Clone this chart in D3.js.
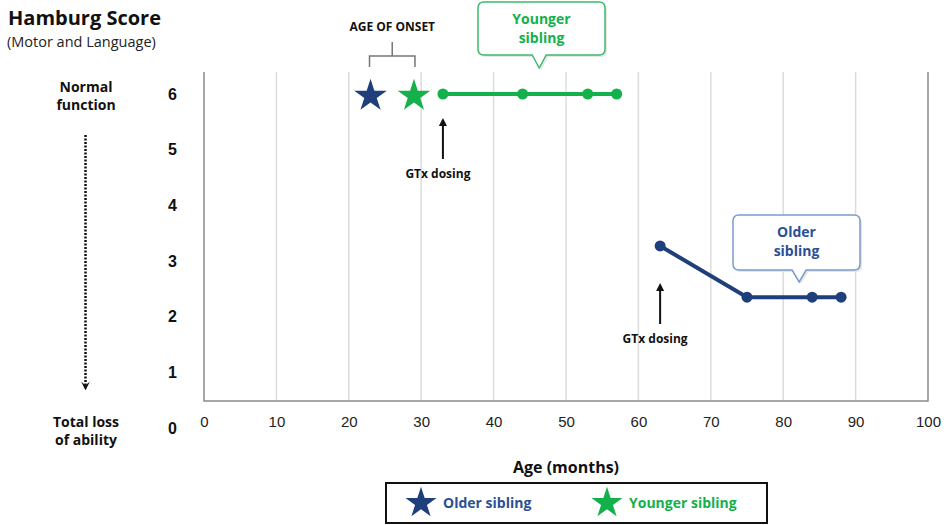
<!DOCTYPE html>
<html>
<head>
<meta charset="utf-8">
<script src="https://cdn.jsdelivr.net/npm/d3@7"></script>
<style>
  body { margin: 0; background: #fff; }
  svg { font-family: "Open Sans", sans-serif; }
  .xaxis text { font-size: 15px; fill: #222; }
  .yaxis text { font-size: 16px; font-weight: 700; fill: #111; }
</style>
</head>
<body>
<svg id="chart" width="946" height="525"></svg>
<script>
// data
var olderAges = [63, 75, 84, 88];
var olderScores = [3.27, 2.35, 2.35, 2.35];
var youngerAges = [33, 44, 53, 57];
var youngerScores = [6, 6, 6, 6];
var onsetAges = [23, 29];          // older, younger
var onsetScores = [6, 6];
var dosingAges = [33, 63];
var xTicks = [0, 10, 20, 30, 40, 50, 60, 70, 80, 90, 100];
var yTicks = [0, 1, 2, 3, 4, 5, 6];
var seriesNames = ["Older sibling", "Younger sibling"];

var blue = "#1f3f7c", green = "#14b04b";

var svg = d3.select("#chart");

//scales
var xScale = d3.scaleLinear().domain([0, 100]).range([204, 928]);
var yScale = d3.scaleLinear().domain([0, 6]).range([428, 94]);
var plotTop = 72, plotBottom = 401;

//grid
svg.append("g").attr("class", "grid")
  .selectAll("line")
  .data(xTicks.slice(1, -1))
  .enter().append("line")
  .attr("x1", function(d){ return xScale(d); })
  .attr("x2", function(d){ return xScale(d); })
  .attr("y1", plotTop).attr("y2", plotBottom)
  .attr("stroke", "#dcdcdc").attr("stroke-width", 1.5);

//frame: left, bottom, right
svg.append("path")
  .attr("d", "M" + xScale(0) + "," + plotTop + "V" + plotBottom + "H" + xScale(100) + "V" + plotTop)
  .attr("fill", "none").attr("stroke", "#8a8a8a").attr("stroke-width", 1.5);

//axes
var xAxis = d3.axisBottom(xScale).tickValues(xTicks).tickSize(0).tickPadding(0);
svg.append("g").attr("class", "xaxis")
  .attr("transform", "translate(0, 416)")
  .call(xAxis)
  .call(function(g){ g.select(".domain").remove(); });

var yAxis = d3.axisLeft(yScale).tickValues(yTicks).tickFormat(d3.format("d")).tickSize(0).tickPadding(0);
svg.append("g").attr("class", "yaxis")
  .attr("transform", "translate(177, 0)")
  .call(yAxis)
  .call(function(g){ g.select(".domain").remove(); });

//lines
var line = d3.line()
  .x(function(d){ return xScale(d[0]); })
  .y(function(d){ return yScale(d[1]); });

var series = [
  { color: green, pts: d3.zip(youngerAges, youngerScores) },
  { color: blue, pts: d3.zip(olderAges, olderScores) }
];
series.forEach(function(s){
  svg.append("path")
    .datum(s.pts)
    .attr("d", line)
    .attr("fill", "none")
    .attr("stroke", s.color)
    .attr("stroke-width", 4);
  svg.append("g").selectAll("circle")
    .data(s.pts)
    .enter().append("circle")
    .attr("cx", function(d){ return xScale(d[0]); })
    .attr("cy", function(d){ return yScale(d[1]); })
    .attr("r", 5.5)
    .attr("fill", s.color);
});

//onset stars
var star = d3.symbol().type(d3.symbolStar).size(330);
svg.append("g").selectAll("path")
  .data(d3.zip(onsetAges, onsetScores))
  .enter().append("path")
  .attr("d", star)
  .attr("transform", function(d){ return "translate(" + xScale(d[0]) + "," + (yScale(d[1]) + 2) + ")"; })
  .attr("fill", function(d, i){ return i == 0 ? blue : green; });

//age of onset bracket
var bl = xScale(onsetAges[0]) - 1, br = xScale(onsetAges[1]) + 1, bm = (bl + br) / 2;
svg.append("path")
  .attr("d", "M" + bl + ",67V56H" + br + "V67M" + bm + ",56V42")
  .attr("fill", "none").attr("stroke", "#777").attr("stroke-width", 1.5);
svg.append("text")
  .attr("x", bm).attr("y", 31)
  .attr("text-anchor", "middle")
  .style("font-size", "12px").style("font-weight", 700).attr("fill", "#111")
  .text("AGE OF ONSET");

//dosing arrows
var defs = svg.append("defs");
defs.append("marker")
  .attr("id", "ah").attr("viewBox", "0 0 10 10")
  .attr("refX", 5).attr("refY", 5)
  .attr("markerWidth", 4).attr("markerHeight", 4)
  .attr("orient", "auto")
  .append("path").attr("d", "M0,0L10,5L0,10Z").attr("fill", "#111");

var dosingY = [[159, 119, 178], [324, 284, 343]];
dosingAges.forEach(function(a, i){
  var x = xScale(a);
  svg.append("line")
    .attr("x1", x).attr("x2", x)
    .attr("y1", dosingY[i][0]).attr("y2", dosingY[i][1] + 3)
    .attr("stroke", "#111").attr("stroke-width", 2)
    .attr("marker-end", "url(#ah)");
  svg.append("text")
    .attr("x", x - 5).attr("y", dosingY[i][2])
    .attr("text-anchor", "middle")
    .style("font-size", "12px").style("font-weight", 700).attr("fill", "#111")
    .text("GTx dosing");
});

//callouts
function callout(x0, y0, w, h, px, tipY, stroke, fill, lines){
  var r = 6;
  var d = "M" + (x0 + r) + "," + y0 + "H" + (x0 + w - r) + "Q" + (x0 + w) + "," + y0 + " " + (x0 + w) + "," + (y0 + r)
        + "V" + (y0 + h - r) + "Q" + (x0 + w) + "," + (y0 + h) + " " + (x0 + w - r) + "," + (y0 + h)
        + "H" + (px + 7) + "L" + px + "," + tipY + "L" + (px - 7) + "," + (y0 + h)
        + "H" + (x0 + r) + "Q" + x0 + "," + (y0 + h) + " " + x0 + "," + (y0 + h - r)
        + "V" + (y0 + r) + "Q" + x0 + "," + y0 + " " + (x0 + r) + "," + y0 + "Z";
  svg.append("path").attr("d", d)
    .attr("transform", "translate(2,2)")
    .attr("fill", "#e6e6e6").attr("stroke", "none");
  svg.append("path").attr("d", d)
    .attr("fill", "#fff").attr("stroke", stroke).attr("stroke-width", 1.5);
  lines.forEach(function(t, i){
    svg.append("text")
      .attr("x", x0 + w / 2).attr("y", y0 + 22 + i * 19)
      .attr("text-anchor", "middle")
      .style("font-size", "14px").style("font-weight", 700).attr("fill", fill)
      .text(t);
  });
}
callout(478, 2, 127, 53, xScale(46.3), 68, "#3dbb6a", green, ["Younger", "sibling"]);
callout(733, 215, 127, 55, xScale(82.2), 282, "#7a9bcc", "#2b4f96", ["Older", "sibling"]);

//left labels
svg.append("text").attr("x", 8).attr("y", 25)
  .style("font-size", "20px").style("font-weight", 700).attr("fill", "#111")
  .text("Hamburg Score");
svg.append("text").attr("x", 7).attr("y", 47)
  .style("font-size", "14.5px").attr("fill", "#222")
  .text("(Motor and Language)");

[["Normal", "function", 92], ["Total loss", "of ability", 427]].forEach(function(l){
  svg.append("text").attr("x", 86).attr("y", l[2])
    .attr("text-anchor", "middle")
    .style("font-size", "14px").style("font-weight", 700).attr("fill", "#111")
    .text(l[0]);
  svg.append("text").attr("x", 86).attr("y", l[2] + 18)
    .attr("text-anchor", "middle")
    .style("font-size", "14px").style("font-weight", 700).attr("fill", "#111")
    .text(l[1]);
});

defs.append("marker")
  .attr("id", "ah2").attr("viewBox", "0 0 10 10")
  .attr("refX", 5).attr("refY", 5)
  .attr("markerWidth", 3.5).attr("markerHeight", 3.5)
  .attr("orient", "auto")
  .append("path").attr("d", "M0,0L10,5L0,10L4,5Z").attr("fill", "#111");
svg.append("line")
  .attr("x1", 85.5).attr("x2", 85.5).attr("y1", 135).attr("y2", 386)
  .attr("stroke", "#111").attr("stroke-width", 2.5)
  .attr("stroke-dasharray", "2,1.5")
  .attr("marker-end", "url(#ah2)");

//x title
svg.append("text").attr("x", 566).attr("y", 473)
  .attr("text-anchor", "middle")
  .style("font-size", "16px").style("font-weight", 700).attr("fill", "#111")
  .text("Age (months)");

//legend
svg.append("rect")
  .attr("x", 386).attr("y", 483).attr("width", 381).attr("height", 40)
  .attr("fill", "#fff").attr("stroke", "#111").attr("stroke-width", 2);
var legX = [421, 607];
var legColors = [blue, green];
var legText = ["#2b4f96", green];
var leg = svg.append("g").selectAll("g")
  .data(seriesNames)
  .enter().append("g")
  .attr("transform", function(d, i){ return "translate(" + legX[i] + ",503)"; });
leg.append("path").attr("d", star.size(300))
  .attr("fill", function(d, i){ return legColors[i]; });
leg.append("text")
  .attr("x", 22).attr("y", 5)
  .style("font-size", "14px").style("font-weight", 700)
  .attr("fill", function(d, i){ return legText[i]; })
  .text(function(d){ return d; });
</script>
</body>
</html>
